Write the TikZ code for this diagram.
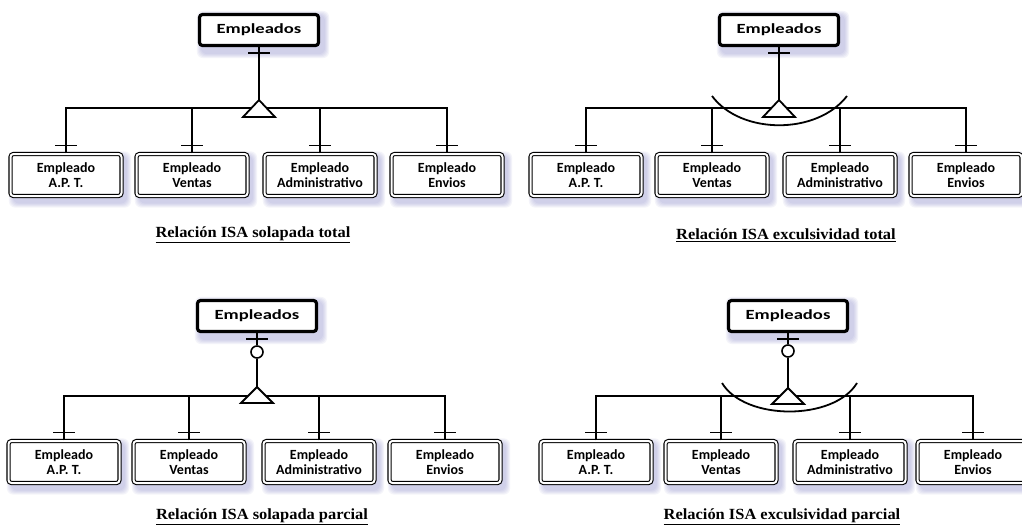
\documentclass[tikz,border=0pt]{standalone}
\usepackage{graphicx}
\usepackage{fontspec}
\setmainfont{Carlito}
\newfontfamily\capfont{Liberation Serif}
\usetikzlibrary{calc}
\pgfdeclarelayer{bg}
\pgfsetlayers{bg,main}
\definecolor{shc}{RGB}{110,110,190}
\tikzset{
 line/.style={line width=1.8pt, black},
 parent/.style={draw, line width=3.2pt, rounded corners=3pt, fill=white, minimum width=119pt, minimum height=31pt, inner sep=0pt, font=\bfseries\fontsize{14}{16}\selectfont},
 child/.style={draw, fill=white, line width=1.1pt, double=white, double distance=2pt, rounded corners=3pt, minimum width=111pt, minimum height=42pt, inner sep=0pt, align=center, font=\bfseries\fontsize{14}{15}\selectfont},
 tri/.style={line, fill=white},
 opt/.style={circle, draw, line width=1.6pt, fill=white, minimum size=12pt, inner sep=0pt},
 caption/.style={font=\capfont\bfseries\fontsize{15.5}{17}\selectfont},
}
\newcommand\isatick[2]{\draw[line] ($(#1)+(-11,#2)$) -- ++(22,0);}
\newcommand\boxshadow[1]{\foreach \k in {1,...,5}{\fill[shc, opacity=0.07, rounded corners=6pt] ($(#1.north west)+(4-\k,3-\k)$) rectangle ($(#1.south east)+(4+\k,6+\k)$);}}
\newcommand\emp{\scalebox{1.33}[1]{Empleados}}
\newcommand\isacap[1]{\underline{\scalebox{1.06}[1]{#1}}}
\begin{document}
\begin{tikzpicture}[x=1pt,y=-1pt]
\useasboundingbox (0,0) rectangle (1022,525);

% ---------- Quadrant A: solapada total ----------
\node[parent] (a0) at (259,30) {\emp};
\node[child] (a1) at (66,175) {Empleado\\A.P. T.};
\node[child] (a2) at (192,175) {Empleado\\Ventas};
\node[child] (a3) at (320,175) {Empleado\\Administrativo};
\node[child] (a4) at (447,175) {Empleado\\Envios};
\coordinate (ah) at (259,108);
\coordinate (at) at (259,100);
\draw[line] (a0.south) -- (at);
\draw[line] (a1.north) -- (a1.north |- ah) -- (a4.north |- ah) -- (a4.north);
\draw[line] (a2.north) -- (a2.north |- ah);
\draw[line] (a3.north) -- (a3.north |- ah);
\draw[tri] (at) -- ++(-16,17) -- ++(32,0) -- cycle;
\isatick{a0.south}{6}
\foreach \n in {a1,a2,a3,a4}{\isatick{\n.north}{-8}}
\node[caption] (ac) at (253,235) {\isacap{Relación ISA solapada total}};

% ---------- Quadrant B: exclusividad total ----------
\node[parent] (b0) at (779,30) {\emp};
\node[child] (b1) at (586,175) {Empleado\\A.P. T.};
\node[child] (b2) at (712,175) {Empleado\\Ventas};
\node[child] (b3) at (840,175) {Empleado\\Administrativo};
\node[child] (b4) at (966,175) {Empleado\\Envios};
\coordinate (bh) at (779,108);
\coordinate (bt) at (779,100);
\draw[line] (b0.south) -- (bt);
\draw[line] (b1.north) -- (b1.north |- bh) -- (b4.north |- bh) -- (b4.north);
\draw[line] (b2.north) -- (b2.north |- bh);
\draw[line] (b3.north) -- (b3.north |- bh);
\draw[line] (712,96) .. controls (741,135) and (817,135) .. (847,96);
\draw[tri] (bt) -- ++(-16,17) -- ++(32,0) -- cycle;
\isatick{b0.south}{6}
\foreach \n in {b1,b2,b3,b4}{\isatick{\n.north}{-8}}
\node[caption] (bc) at (786,235) {\isacap{Relación ISA exculsividad total}};

% ---------- Quadrant C: solapada parcial ----------
\node[parent] (c0) at (257,316) {\emp};
\node[opt] (co) at (257,352) {};
\node[child] (c1) at (64,462) {Empleado\\A.P. T.};
\node[child] (c2) at (189,462) {Empleado\\Ventas};
\node[child] (c3) at (319,462) {Empleado\\Administrativo};
\node[child] (c4) at (445,462) {Empleado\\Envios};
\coordinate (ch) at (257,396);
\coordinate (ct) at (257,387);
\draw[line] (c0.south) -- (co.north);
\draw[line] (co.south) -- (ct);
\draw[line] (c1.north) -- (c1.north |- ch) -- (c4.north |- ch) -- (c4.north);
\draw[line] (c2.north) -- (c2.north |- ch);
\draw[line] (c3.north) -- (c3.north |- ch);
\draw[tri] (ct) -- ++(-16,16) -- ++(32,0) -- cycle;
\isatick{c0.south}{6}
\foreach \n in {c1,c2,c3,c4}{\isatick{\n.north}{-8}}
\node[caption] (cc) at (262,517) {\isacap{Relación ISA solapada parcial}};

% ---------- Quadrant D: exclusividad parcial ----------
\node[parent] (d0) at (788,316) {\emp};
\node[opt] (do) at (788,351) {};
\node[child] (d1) at (596,462) {Empleado\\A.P. T.};
\node[child] (d2) at (721,462) {Empleado\\Ventas};
\node[child] (d3) at (850,462) {Empleado\\Administrativo};
\node[child] (d4) at (973,462) {Empleado\\Envios};
\coordinate (dh) at (788,396);
\coordinate (dt) at (788,388);
\draw[line] (d0.south) -- (do.north);
\draw[line] (do.south) -- (dt);
\draw[line] (d1.north) -- (d1.north |- dh) -- (d4.north |- dh) -- (d4.north);
\draw[line] (d2.north) -- (d2.north |- dh);
\draw[line] (d3.north) -- (d3.north |- dh);
\draw[line] (722,383) .. controls (745,421) and (834,421) .. (857,383);
\draw[tri] (dt) -- ++(-16,16) -- ++(32,0) -- cycle;
\isatick{d0.south}{6}
\foreach \n in {d1,d2,d3,d4}{\isatick{\n.north}{-8}}
\node[caption] (dc) at (782,517) {\isacap{Relación ISA exculsividad parcial}};

% ---------- background and shadows ----------
\begin{pgfonlayer}{bg}
\fill[white] (0,0) rectangle (1022,525);
\foreach \b in {a0,a1,a2,a3,a4,b0,b1,b2,b3,b4,c0,c1,c2,c3,c4,d0,d1,d2,d3,d4}{\boxshadow{\b}}
\end{pgfonlayer}
\end{tikzpicture}
\end{document}
